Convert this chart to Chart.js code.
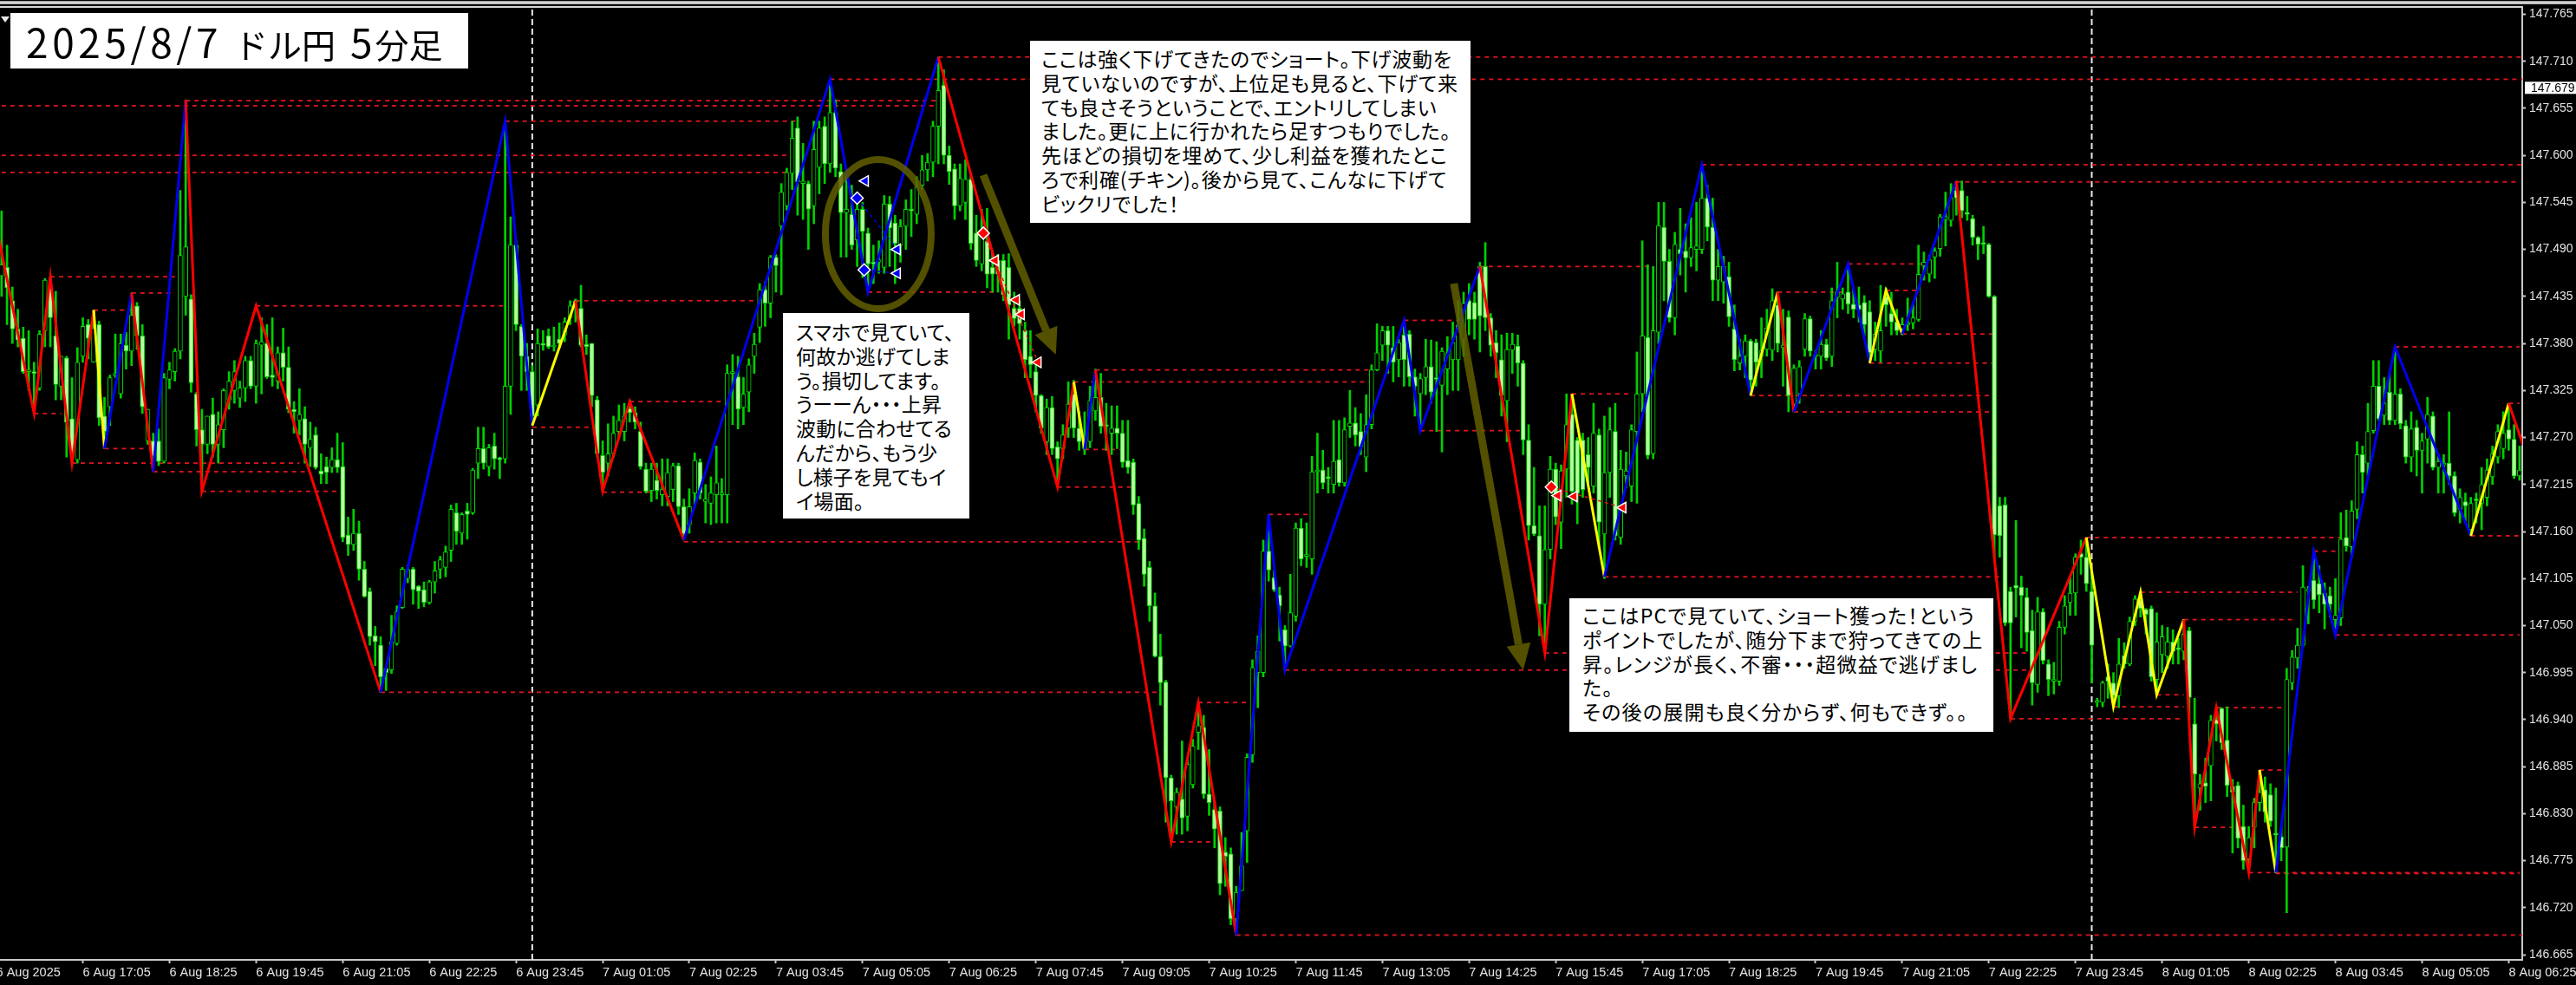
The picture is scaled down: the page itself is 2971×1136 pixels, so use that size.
<!DOCTYPE html>
<html lang="ja">
<head>
<meta charset="utf-8">
<title>2025/8/7 ドル円 5分足</title>
<script src="https://cdn.jsdelivr.net/npm/chart.js"></script>
<style>
  html, body { margin: 0; padding: 0; background: #000; overflow: hidden; }
  #wrap { position: relative; width: 2971px; height: 1136px; background: #000; }
  #chrome1 { position: absolute; left: 0; top: 1px; width: 2971px; height: 4px; background: linear-gradient(#8a8a8a, #e8e8e8 50%, #9a9a9a); }
  #chrome2 { position: absolute; left: 0; top: 7px; width: 2909px; height: 2px; background: #d8d8d8; }
  #arrowMark { position: absolute; left: 1px; top: 19px; width: 0; height: 0; border-left: 5px solid transparent; border-right: 5px solid transparent; border-top: 7px solid #e8e8e8; }
  canvas { position: absolute; left: 0; top: 0; }
  .note { position: absolute; background: #fff; color: #000; font-family: "Noto Sans CJK JP", sans-serif; font-size: 23px; font-feature-settings: "palt"; line-height: 27.8px; white-space: pre; box-sizing: border-box; }
  #title { position: absolute; left: 12px; top: 15px; width: 528px; height: 64px; background: #fff; color: #000; font-family: "Noto Sans CJK JP", sans-serif; white-space: pre; line-height: 64px; padding-left: 18px; box-sizing: border-box; font-size: 46px; letter-spacing: 4.6px; }
  #title span { font-size: 39px; letter-spacing: 0; }
  #n1 { left: 1188px; top: 47px; width: 508px; height: 210px; padding: 7px 0 0 13px; letter-spacing: 0.8px; }
  #n2 { left: 903px; top: 361px; width: 215px; height: 237px; padding: 8px 0 0 15px; letter-spacing: 0.2px; }
  #n3 { left: 1810px; top: 690px; width: 489px; height: 154px; padding: 6px 0 0 15px; letter-spacing: 1.3px; }
</style>
</head>
<body>
<div id="wrap">
  <canvas id="chart" width="2971" height="1136"></canvas>
  <div id="chrome1"></div>
  <div id="chrome2"></div>
  <div id="arrowMark"></div>
  <div id="title">2025/8/7<span style="margin-left:14px">ドル円</span><span style="margin-left:17px;font-size:46px">5</span><span style="margin-left:3px">分足</span></div>
  <div class="note" id="n1">ここは強く下げてきたのでショート。下げ波動を
見ていないのですが、上位足も見ると、下げて来
ても良さそうということで、エントリしてしまい
ました。更に上に行かれたら足すつもりでした。
先ほどの損切を埋めて、少し利益を獲れたとこ
ろで利確(チキン)。後から見て、こんなに下げて
ビックリでした！</div>
  <div class="note" id="n2">スマホで見ていて、
何故か逃げてしま
う。損切してます。
うーーん・・・上昇
波動に合わせてる
んだから、もう少
し様子を見てもイ
イ場面。</div>
  <div class="note" id="n3">ここはPCで見ていて、ショート獲った！という
ポイントでしたが、随分下まで狩ってきての上
昇。レンジが長く、不審・・・超微益で逃げまし
た。
その後の展開も良く分からず、何もできず。。</div>
</div>
<script>
// all prices below are in 0.001 yen above 146.000
const opens = [
1459,1469,1430,1397,1386,1347,1347,1328,1395,1445,
1389,1330,1363,1292,1244,1365,1402,1358,1402,1295,
1306,1343,1321,1378,1371,1424,1389,1266,1266,1266,
1242,1338,1347,1371,1435,1432,1321,1279,1262,1297,
1262,1279,1314,1325,1316,1328,1360,1330,1378,1380,
1343,1336,1369,1352,1303,1290,1292,1258,1273,1231,
1236,1235,1244,1236,1156,1145,1158,1116,1090,1038,
1027,1000,998,1029,1071,1105,1116,1096,1092,1077,
1101,1116,1118,1138,1182,1158,1184,1182,1240,1257,
1236,1260,1245,1245,1330,1495,1400,1365,1347,1308,
1380,1389,1376,1385,1390,1410,1428,1421,1379,1380,
1314,1249,1240,1251,1277,1277,1304,1299,1277,1233,
1208,1220,1203,1201,1209,1237,1189,1168,1205,1241,
1195,1193,1203,1203,1203,1345,1341,1305,1323,1365,
1399,1443,1427,1481,1517,1541,1579,1632,1567,1567,
1541,1586,1634,1590,1650,1581,1533,1531,1501,1537,
1509,1475,1475,1469,1543,1521,1495,1517,1536,1531,
1565,1583,1592,1634,1682,1600,1584,1541,1545,1572,
1509,1473,1500,1469,1477,1477,1469,1421,1421,1395,
1365,1347,1319,1265,1305,1259,1257,1281,1321,1281,
1257,1265,1301,1317,1285,1275,1281,1275,1243,1241,
1193,1152,1118,1073,1014,984,872,838,847,827,
864,925,931,853,835,833,785,783,707,740,
810,899,995,995,1137,1106,1086,1045,1026,1061,
1164,1131,1128,1230,1232,1224,1215,1244,1217,1283,
1287,1277,1247,1285,1349,1378,1395,1375,1361,1390,
1391,1341,1321,1340,1353,1340,1331,1350,1361,1361,
1385,1430,1428,1470,1470,1410,1381,1361,1313,1372,
1377,1357,1267,1167,1155,1075,1139,1233,1171,1233,
1297,1267,1267,1250,1213,1273,1157,1229,1277,1153,
1225,1213,1277,1321,1387,1251,1393,1516,1476,1410,
1490,1488,1480,1490,1490,1550,1516,1454,1452,1458,
1397,1357,1365,1383,1381,1365,1373,1372,1425,1375,
1411,1309,1321,1373,1409,1365,1365,1379,1365,1434,
1432,1440,1426,1425,1428,1417,1373,1371,1435,1415,
1405,1397,1402,1404,1408,1471,1461,1481,1491,1525,
1524,1559,1559,1533,1526,1504,1497,1496,1435,1190,
1191,1090,1097,1095,1083,1044,981,1066,1005,985,
985,1048,1077,1088,1134,1130,1090,960,960,990,
983,968,1015,1005,1055,1080,1069,1070,987,1016,
1014,1031,1024,1020,1044,935,860,866,886,940,
953,916,862,863,815,777,814,843,858,852,
806,803,791,983,1012,1027,1090,1103,1099,1088,
1085,1057,1059,1153,1142,1186,1250,1240,1278,1330,
1296,1323,1290,1321,1284,1247,1282,1255,1268,1295,
1235,1238,1240,1225,1186,1195,1162,1197,1193,1200,
1224,1247,1257,1279,1268,1225];
const highs = [
1535,1495,1446,1420,1399,1395,1358,1395,1456,1458,
1441,1365,1365,1340,1375,1410,1408,1419,1406,1317,
1343,1391,1391,1393,1439,1428,1402,1303,1275,1280,
1345,1358,1374,1559,1665,1437,1323,1303,1295,1316,
1300,1327,1347,1360,1336,1365,1365,1384,1410,1402,
1410,1376,1398,1376,1312,1327,1306,1288,1282,1251,
1247,1258,1275,1264,1177,1186,1172,1125,1094,1049,
1037,1000,1062,1073,1118,1120,1118,1097,1101,1103,
1125,1131,1143,1191,1193,1182,1193,1234,1282,1282,
1262,1275,1247,1635,1528,1500,1402,1380,1354,1397,
1395,1397,1399,1404,1410,1430,1432,1448,1390,1380,
1318,1266,1286,1295,1308,1310,1314,1306,1288,1240,
1240,1240,1245,1245,1240,1240,1198,1210,1252,1245,
1215,1224,1260,1222,1355,1367,1365,1340,1362,1392,
1450,1452,1483,1484,1567,1585,1640,1645,1614,1570,
1640,1640,1645,1690,1665,1590,1578,1565,1545,1545,
1515,1495,1500,1553,1552,1530,1525,1548,1560,1575,
1600,1602,1640,1715,1700,1611,1590,1590,1595,1580,
1530,1537,1538,1485,1484,1484,1485,1440,1430,1405,
1395,1360,1320,1315,1318,1265,1285,1335,1337,1300,
1300,1330,1350,1345,1310,1307,1307,1290,1290,1245,
1201,1163,1125,1088,1040,986,875,860,915,895,
917,960,945,905,845,838,802,790,745,808,
900,1010,1038,1150,1180,1115,1095,1050,1110,1170,
1175,1170,1248,1275,1255,1235,1290,1290,1293,1325,
1305,1298,1320,1355,1403,1400,1400,1400,1385,1407,
1395,1350,1345,1385,1384,1382,1375,1388,1405,1430,
1440,1450,1440,1475,1498,1415,1395,1390,1392,1392,
1390,1360,1285,1235,1190,1190,1248,1240,1238,1321,
1321,1270,1275,1270,1310,1280,1295,1305,1310,1255,
1253,1285,1370,1500,1472,1470,1545,1545,1490,1510,
1538,1520,1527,1545,1589,1565,1550,1490,1482,1475,
1425,1385,1390,1385,1385,1410,1420,1444,1440,1420,
1418,1355,1360,1415,1412,1372,1395,1385,1445,1475,
1445,1473,1445,1446,1436,1430,1405,1448,1445,1440,
1420,1410,1433,1425,1495,1487,1483,1492,1531,1557,
1567,1570,1570,1552,1530,1505,1517,1497,1436,1200,
1200,1095,1173,1108,1094,1068,1083,1070,1010,1007,
1055,1085,1107,1134,1150,1153,1110,965,985,1005,
995,1035,1030,1060,1085,1089,1070,1073,1065,1050,
1048,1045,1035,1057,1048,965,876,895,945,954,
954,955,870,867,840,815,848,881,873,865,
860,815,1000,1021,1047,1120,1096,1137,1120,1100,
1095,1105,1182,1185,1196,1265,1260,1310,1360,1360,
1340,1345,1376,1327,1290,1300,1290,1275,1317,1300,
1250,1250,1300,1230,1210,1205,1200,1205,1235,1245,
1260,1285,1300,1310,1285,1260];
const lows = [
1435,1402,1380,1376,1345,1325,1300,1325,1376,1376,
1314,1314,1247,1240,1240,1358,1362,1358,1284,1260,
1284,1340,1316,1350,1354,1373,1298,1262,1232,1237,
1240,1327,1336,1362,1413,1323,1260,1207,1251,1247,
1240,1258,1303,1310,1305,1312,1327,1310,1321,1339,
1330,1327,1336,1299,1275,1273,1240,1236,1233,1216,
1216,1229,1229,1148,1132,1138,1103,1083,1027,1003,
972,974,994,1027,1070,1100,1075,1070,1072,1075,
1088,1105,1107,1125,1145,1145,1151,1180,1222,1233,
1225,1233,1222,1240,1297,1395,1325,1325,1286,1295,
1372,1374,1371,1375,1382,1402,1405,1376,1367,1306,
1247,1207,1225,1247,1270,1266,1288,1280,1233,1205,
1195,1198,1190,1190,1195,1180,1150,1158,1190,1198,
1170,1168,1170,1170,1170,1285,1280,1285,1300,1345,
1381,1400,1410,1440,1437,1536,1560,1530,1525,1490,
1520,1555,1567,1580,1575,1481,1481,1490,1470,1457,
1440,1450,1462,1462,1470,1450,1475,1490,1505,1520,
1560,1570,1575,1590,1590,1566,1525,1535,1525,1490,
1470,1465,1445,1440,1440,1430,1385,1400,1385,1340,
1340,1300,1275,1250,1250,1212,1245,1270,1270,1255,
1250,1258,1290,1275,1255,1250,1257,1235,1228,1180,
1139,1096,1055,1013,957,820,797,806,806,810,
860,905,848,828,790,735,745,700,688,740,
773,890,954,990,1102,1090,1032,998,1025,1055,
1120,1118,1110,1205,1210,1205,1205,1213,1213,1270,
1260,1250,1230,1280,1348,1360,1345,1335,1341,1330,
1330,1295,1278,1320,1310,1277,1253,1320,1325,1325,
1365,1390,1385,1370,1395,1365,1340,1295,1265,1345,
1330,1250,1150,1155,1038,1018,1128,1168,1140,1200,
1192,1169,1200,1215,1205,1140,1105,1200,1150,1145,
1211,1195,1193,1300,1245,1245,1380,1430,1405,1390,
1460,1440,1470,1465,1485,1500,1430,1430,1427,1400,
1348,1349,1340,1319,1330,1340,1365,1360,1370,1330,
1300,1300,1310,1365,1365,1350,1350,1360,1353,1410,
1420,1415,1410,1405,1389,1357,1360,1358,1400,1390,
1390,1390,1395,1397,1406,1454,1452,1456,1482,1494,
1517,1530,1527,1524,1495,1478,1485,1434,1130,1130,
1050,941,1060,1024,1020,957,972,1005,968,970,
980,1040,1062,1062,1110,1090,983,955,955,965,
955,954,1000,1003,1050,1060,1040,985,969,995,
1000,1005,1005,1010,940,814,834,843,845,915,
905,850,784,790,765,761,790,833,820,815,
761,775,714,975,1000,1025,1052,1070,1065,1046,
1060,1039,1050,1137,1130,1175,1205,1225,1275,1290,
1285,1285,1285,1280,1240,1230,1225,1205,1240,1232,
1205,1205,1215,1178,1170,1172,1155,1170,1162,1190,
1215,1240,1245,1255,1222,1220];
const closes = [
1472,1445,1397,1384,1347,1347,1345,1391,1454,1410,
1332,1365,1288,1251,1358,1400,1386,1398,1293,1277,
1340,1345,1380,1371,1413,1389,1306,1303,1248,1242,
1340,1349,1371,1483,1493,1334,1279,1262,1295,1262,
1285,1325,1336,1347,1328,1360,1330,1380,1382,1341,
1340,1369,1352,1303,1300,1297,1262,1268,1235,1227,
1229,1244,1235,1153,1145,1158,1116,1084,1037,1031,
990,995,1031,1066,1116,1115,1092,1090,1077,1101,
1114,1127,1136,1186,1160,1180,1180,1232,1257,1240,
1258,1245,1244,1330,1495,1402,1365,1347,1295,1380,
1378,1376,1378,1380,1405,1424,1430,1378,1376,1319,
1251,1229,1251,1275,1290,1295,1299,1288,1236,1207,
1233,1208,1209,1229,1237,1189,1157,1189,1243,1205,
1198,1205,1217,1204,1345,1347,1303,1321,1355,1379,
1443,1427,1481,1471,1557,1580,1620,1569,1570,1537,
1607,1632,1590,1650,1585,1533,1537,1495,1537,1511,
1473,1473,1478,1543,1515,1497,1517,1537,1535,1563,
1583,1592,1634,1676,1600,1581,1541,1573,1572,1497,
1477,1507,1461,1461,1461,1437,1425,1409,1403,1361,
1355,1319,1281,1305,1257,1245,1273,1309,1281,1265,
1265,1313,1317,1283,1283,1281,1275,1241,1235,1191,
1150,1110,1073,1014,983,872,845,855,825,888,
909,933,853,843,812,748,780,707,738,769,
896,1001,1020,1137,1115,1092,1073,1026,1065,1164,
1128,1132,1230,1232,1217,1222,1242,1217,1279,1287,
1273,1259,1285,1349,1369,1395,1378,1358,1381,1361,
1341,1330,1339,1353,1323,1338,1371,1369,1381,1401,
1427,1408,1408,1412,1410,1378,1369,1319,1373,1379,
1357,1267,1167,1157,1075,1139,1233,1177,1231,1285,
1207,1205,1209,1235,1275,1171,1229,1279,1155,1233,
1231,1279,1321,1389,1249,1395,1518,1476,1410,1496,
1485,1480,1492,1494,1550,1516,1454,1470,1470,1411,
1361,1365,1383,1337,1358,1372,1398,1430,1380,1378,
1319,1351,1353,1409,1371,1367,1379,1363,1430,1440,
1438,1426,1420,1420,1402,1369,1391,1395,1425,1405,
1395,1402,1404,1410,1461,1475,1478,1488,1528,1528,
1550,1550,1535,1531,1504,1496,1496,1435,1156,1155,
1053,1053,1094,1085,1042,983,1066,1009,987,985,
1048,1073,1088,1130,1130,1099,1027,960,983,985,
968,1005,1005,1055,1081,1070,1063,990,1031,1037,
1031,1020,1022,1040,966,876,865,862,939,935,
913,863,855,801,775,802,843,855,832,821,
805,790,987,1013,1027,1095,1093,1080,1086,1075,
1075,1062,1151,1143,1184,1250,1229,1277,1330,1292,
1310,1290,1321,1286,1247,1280,1255,1266,1297,1235,
1242,1240,1225,1182,1200,1190,1193,1196,1215,1232,
1251,1277,1275,1268,1225,1232];

// tick labels of the time axis, one every 16 bars from bar 0
const timeLabels = ["6 Aug 2025","6 Aug 17:05","6 Aug 18:25","6 Aug 19:45","6 Aug 21:05","6 Aug 22:25","6 Aug 23:45",
  "7 Aug 01:05","7 Aug 02:25","7 Aug 03:45","7 Aug 05:05","7 Aug 06:25","7 Aug 07:45","7 Aug 09:05","7 Aug 10:25",
  "7 Aug 11:45","7 Aug 13:05","7 Aug 14:25","7 Aug 15:45","7 Aug 17:05","7 Aug 18:25","7 Aug 19:45","7 Aug 21:05",
  "7 Aug 22:25","7 Aug 23:45","8 Aug 01:05","8 Aug 02:25","8 Aug 03:45","8 Aug 05:05","8 Aug 06:25"];
const priceTicks = [147.765,147.710,147.655,147.600,147.545,147.490,147.435,147.380,147.325,147.270,147.215,
  147.160,147.105,147.050,146.995,146.940,146.885,146.830,146.775,146.720,146.665];
const lastPrice = 147.679;
const dayBreaks = [99, 387];

// zigzag turning points: bar, price, colour of the leg that starts there
const zigBars = [0,7,10,14,18,20,25,29,35,38,48,71,94,99,107,112,117,127,154,161,174,196,199,201,203,217,222,229,235,238,
  260,263,274,286,291,297,315,324,329,332,342,346,349,352,362,372,386,391,396,399,404,406,410,416,418,421,428,432,443,457,464,467];
const zigPrices = [1518,1298,1458,1240,1419,1257,1439,1230,1665,1207,1424,972,1640,1284,1430,1207,1312,1150,1689,1440,1715,1212,1335,1256,1349,797,960,688,1180,998,
  1407,1278,1470,1018,1321,1107,1589,1319,1440,1300,1473,1357,1442,1391,1570,941,1153,955,1089,969,1057,814,954,761,881,761,1137,1039,1376,1155,1310,1255];
const zigColors = "rrrrybrbrrrbbyrrrbbbrrybrrrbbbbbrrybbyrbbyybrryyyyrrrrybbbbyr";

// dashed level lines: first bar, last bar, price
const levelStart = [35,1,94,1,1,10,25,18,48,7,20,14,29,38,71,107,99,117,112,127,154,174,161,203,199,201,196,217,222,229,235,238,
  260,263,274,286,291,297,315,324,332,342,329,349,352,346,362,372,386,391,396,399,404,406,410,416,421,418,428,432,443,457,464];
const levelEnd = [174,174,148,146,146,33,33,25,94,12,28,56,57,64,215,141,110,135,121,212,467,467,185,254,254,208,210,225,232,467,243,375,
  270,282,306,375,302,370,467,368,369,356,342,355,369,369,466,404,433,404,425,404,424,413,423,466,466,423,432,466,466,466,466];
const levelPrices = [1664,1658,1640,1600,1580,1458,1439,1419,1424,1298,1257,1240,1230,1207,972,1430,1282,1312,1206,1148,1689,1715,1440,1349,1335,1256,1212,797,960,688,1180,998,
  1407,1278,1470,1018,1321,1107,1589,1319,1300,1473,1440,1442,1391,1357,1569,941,1153,955,1089,969,1057,814,954,761,760,881,1137,1039,1376,1155,1310];

// trade marks
const blueBars = [159,160.5,160.3,166.4,166.4];
const bluePrices = [1550,1570,1466,1490,1462];
const redBars = [182.3,184.5,188.4,189.3,192.4,287.2,288.4,291.4,300.4];
const redPrices = [1509,1477,1431,1414,1358,1212,1202,1201,1188];
const blueEntries = [0,2];
const redEntries = [0,5];

// hand drawn overlays, bar and price of their anchors
const circleBar = 162.9, circlePrice = 1508;
const arrowBars = [[182.3,195.7],[269.2,282]];
const arrowPrices = [[1577,1367],[1450,998]];

const toPrice = v => 146 + v / 1000;
const olive = "rgba(98,94,0,0.85)";
const bars = opens.map((_, i) => i + 1);

const wickData = bars.map((b, i) => ({ x: b, y: [toPrice(lows[i]), toPrice(highs[i])] }));
const bodyData = bars.map((b, i) => ({ x: b, y: [toPrice(opens[i]), toPrice(closes[i])] }));
const bodyFill = bars.map((b, i) => closes[i] < opens[i] ? "#b8ffa0" : "#000000");

const colorByLetter = { r: "#ff0000", b: "#0000f0", y: "#ffff00" };

const datasets = [];
dayBreaks.forEach(b => {
  datasets.push({ type: "line", order: 9, data: [{ x: b, y: 146.659 }, { x: b, y: 147.774 }], borderColor: "#e8e8e8",
    borderWidth: 2, borderDash: [7, 4], pointRadius: 0 });
});
levelPrices.forEach((p, i) => {
  datasets.push({ type: "line", order: 8, data: [{ x: levelStart[i], y: toPrice(p) }, { x: levelEnd[i], y: toPrice(p) }],
    borderColor: "#e0141e", borderWidth: 1.8, borderDash: [5, 5], pointRadius: 0 });
});
datasets.push({ type: "bar", order: 7, data: wickData, backgroundColor: "#00d000", barThickness: 2, grouped: false, minBarLength: 1 });
datasets.push({ type: "bar", order: 6, data: bodyData, backgroundColor: bodyFill, borderColor: "#00dc00", borderWidth: 1,
  borderSkipped: false, barThickness: 5, grouped: false, minBarLength: 2 });
datasets.push({ type: "line", order: 4,
  data: zigBars.map((b, i) => ({ x: b, y: toPrice(zigPrices[i]) })),
  borderWidth: 3, pointRadius: 0, tension: 0, borderJoinStyle: "miter",
  segment: { borderColor: c => colorByLetter[zigColors[c.p0DataIndex]] } });
// thin links between a trade's entry and exit
blueEntries.forEach((e, k) => {
  const exit = k === 0 ? 3 : 4;
  datasets.push({ type: "line", order: 3, data: [{ x: blueBars[e], y: toPrice(bluePrices[e]) }, { x: blueBars[exit], y: toPrice(bluePrices[exit]) }],
    borderColor: "#0000e0", borderWidth: 1.5, borderDash: [4, 4], pointRadius: 0 });
});
redEntries.forEach((e, k) => {
  const exit = k === 0 ? 4 : 8;
  datasets.push({ type: "line", order: 3, data: [{ x: redBars[e], y: toPrice(redPrices[e]) }, { x: redBars[exit], y: toPrice(redPrices[exit]) }],
    borderColor: "#e0141e", borderWidth: 1.5, borderDash: [4, 4], pointRadius: 0 });
});
function markerSet(xs, ys, color, entries) {
  return { type: "line", order: 2, showLine: false,
    data: xs.map((x, i) => ({ x: x, y: toPrice(ys[i]) })),
    pointStyle: xs.map((x, i) => entries.includes(i) ? "rectRot" : "triangle"),
    pointRotation: xs.map((x, i) => entries.includes(i) ? 0 : -90),
    pointRadius: 7, pointBackgroundColor: color, pointBorderColor: "#ffffff", pointBorderWidth: 1.5 };
}
datasets.push(markerSet(blueBars, bluePrices, "#0000f0", blueEntries));
datasets.push(markerSet(redBars, redPrices, "#ff0000", redEntries));

// circle and arrows the author drew on the screenshot, plus the last price box
const overlayPlugin = {
  id: "overlay",
  afterDraw(chart) {
    const ctx = chart.ctx, x = chart.scales.x, y = chart.scales.y;
    ctx.save();
    ctx.strokeStyle = olive;
    ctx.lineWidth = 8;
    ctx.beginPath();
    ctx.ellipse(x.getPixelForValue(circleBar), y.getPixelForValue(toPrice(circlePrice)), 61, 86, 0, 0, Math.PI * 2);
    ctx.stroke();
    arrowBars.forEach((ab, k) => {
      const x0 = x.getPixelForValue(ab[0]), y0 = y.getPixelForValue(toPrice(arrowPrices[k][0]));
      const x1 = x.getPixelForValue(ab[1]), y1 = y.getPixelForValue(toPrice(arrowPrices[k][1]));
      const a = Math.atan2(y1 - y0, x1 - x0), len = 30, half = 14;
      const bx = x1 - Math.cos(a) * len, by = y1 - Math.sin(a) * len;
      ctx.lineWidth = 9;
      ctx.beginPath(); ctx.moveTo(x0, y0); ctx.lineTo(bx, by); ctx.stroke();
      ctx.fillStyle = olive;
      ctx.beginPath();
      ctx.moveTo(x1, y1);
      ctx.lineTo(bx - Math.sin(a) * half, by + Math.cos(a) * half);
      ctx.lineTo(bx + Math.sin(a) * half, by - Math.cos(a) * half);
      ctx.closePath(); ctx.fill();
    });
    const py = y.getPixelForValue(lastPrice);
    ctx.fillStyle = "#fff";
    ctx.fillRect(2912, py - 7, 59, 14);
    ctx.fillStyle = "#000";
    ctx.font = "14px 'Liberation Sans'";
    ctx.textBaseline = "middle";
    ctx.fillText(lastPrice.toFixed(3), 2919, py + 0.5);
    ctx.restore();
  }
};

new Chart(document.getElementById("chart").getContext("2d"), {
  data: { datasets: datasets },
  plugins: [overlayPlugin],
  options: {
    responsive: false,
    animation: false,
    layout: { autoPadding: false, padding: { top: 8, left: 0, right: 0, bottom: 0 } },
    plugins: { legend: { display: false }, tooltip: { enabled: false } },
    scales: {
      x: {
        type: "linear", offset: false, min: 0.705, max: 466.5,
        afterBuildTicks: s => { s.ticks = timeLabels.map((t, i) => ({ value: i * 16 })); },
        afterFit: s => { s.height = 29; s.paddingLeft = 0; s.paddingRight = 0; },
        grid: { offset: false, drawOnChartArea: false, color: "#c8c8c8", tickLength: 4, tickWidth: 2 },
        border: { color: "#c8c8c8", width: 2 },
        ticks: { color: "#e4e4e4", autoSkip: false, maxRotation: 0, align: "start", padding: 2,
          font: { family: "Liberation Sans", size: 14.5 },
          callback: (v, i) => timeLabels[i] }
      },
      y: {
        position: "right", min: 146.659, max: 147.7736,
        afterBuildTicks: s => { s.ticks = priceTicks.map(v => ({ value: v })); },
        afterFit: s => { s.width = 62; s.paddingTop = 0; s.paddingBottom = 0; },
        grid: { drawOnChartArea: false, color: "#c8c8c8", tickLength: 4, tickWidth: 2 },
        border: { color: "#c8c8c8", width: 2 },
        ticks: { color: "#e4e4e4", autoSkip: false, padding: 4,
          font: { family: "Liberation Sans", size: 14 },
          callback: v => v.toFixed(3) }
      }
    }
  }
});
</script>
</body>
</html>
